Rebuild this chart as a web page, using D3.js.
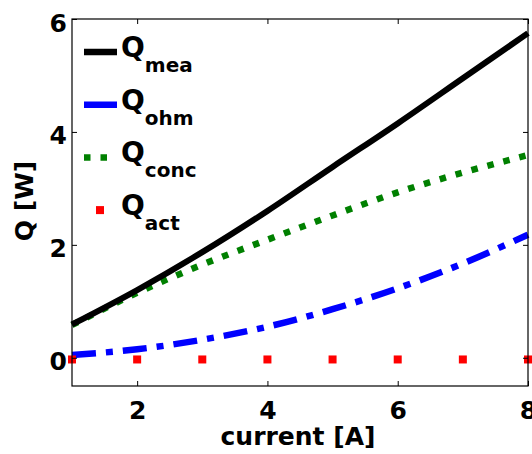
<!DOCTYPE html>
<html>
<head>
<meta charset="utf-8">
<script src="https://cdn.jsdelivr.net/npm/d3@7"></script>
<style>
  body { margin: 0; background: #fff; }
  text { font-family: "DejaVu Sans", sans-serif; font-weight: bold; }
</style>
</head>
<body>
<div id="chart"></div>
<script>
// data
const current = [1, 2, 3, 4, 5, 6, 7, 8];
const qMea  = [0.59, 1.2, 1.87, 2.6, 3.38, 4.15, 4.95, 5.75];
const qOhm  = [0.05, 0.15, 0.32, 0.55, 0.86, 1.23, 1.67, 2.18];
const qConc = [0.58, 1.15, 1.65, 2.09, 2.52, 2.93, 3.28, 3.59];
const qAct  = [-0.03, -0.03, -0.03, -0.03, -0.03, -0.03, -0.03, -0.03];
const xTicks = [2, 4, 6, 8];
const yTicks = [0, 2, 4, 6];

const width = 532, height = 454;
const margin = {left: 72, right: 4, top: 19, bottom: 68};

const svg = d3.select("#chart").append("svg")
    .attr("width", width)
    .attr("height", height);

const x = d3.scaleLinear().domain([1, 8]).range([margin.left, width - margin.right]);
const y = d3.scaleLinear().domain([-0.5, 6]).range([height - margin.bottom, margin.top]);

const plot = svg.append("g");

const line = d3.line()
    .x((d, i) => x(current[i]))
    .y(d => y(d))
    .curve(d3.curveMonotoneX);

// Q_conc dotted green
plot.append("path")
    .attr("d", line(qConc))
    .attr("fill", "none")
    .attr("stroke", "#008000")
    .attr("stroke-width", 6.5)
    .attr("stroke-dasharray", "6.5,10");

// Q_mea solid black
plot.append("path")
    .attr("d", line(qMea))
    .attr("fill", "none")
    .attr("stroke", "#000")
    .attr("stroke-width", 6);

// Q_ohm dash-dot blue
plot.append("path")
    .attr("d", line(qOhm))
    .attr("fill", "none")
    .attr("stroke", "#0000ff")
    .attr("stroke-width", 6.5)
    .attr("stroke-dasharray", "24,10,7,10");

// Q_act red markers
plot.selectAll("rect.act")
    .data(qAct)
    .join("rect")
    .attr("class", "act")
    .attr("x", (d, i) => x(current[i]) - 4)
    .attr("y", d => y(d) - 4)
    .attr("width", 8)
    .attr("height", 8)
    .attr("fill", "#ff0000");

// axes box
const x0 = x.range()[0], x1 = x.range()[1];
const y0 = y.range()[0], y1 = y.range()[1];
svg.append("rect")
    .attr("x", x0).attr("y", y1)
    .attr("width", x1 - x0).attr("height", y0 - y1)
    .attr("fill", "none").attr("stroke", "#000").attr("stroke-width", 1.2);

const fmt = d3.format("d");
const xAxis = svg.append("g")
    .attr("transform", `translate(0,${y0})`)
    .call(d3.axisBottom(x).tickValues(xTicks).tickFormat(fmt).tickSizeInner(-5).tickSizeOuter(0).tickPadding(15));
const xTop = svg.append("g")
    .attr("transform", `translate(0,${y1})`)
    .call(d3.axisTop(x).tickValues(xTicks).tickSizeInner(-5).tickSizeOuter(0).tickFormat(""));
const yAxis = svg.append("g")
    .attr("transform", `translate(${x0},0)`)
    .call(d3.axisLeft(y).tickValues(yTicks).tickFormat(fmt).tickSizeInner(-5).tickSizeOuter(0).tickPadding(5));
const yRight = svg.append("g")
    .attr("transform", `translate(${x1},0)`)
    .call(d3.axisRight(y).tickValues(yTicks).tickSizeInner(-5).tickSizeOuter(0).tickFormat(""));

[xAxis, xTop, yAxis, yRight].forEach(g => {
    g.select(".domain").remove();
    g.selectAll("line").attr("stroke", "#000");
    g.selectAll("text")
        .attr("font-size", 25)
        .attr("fill", "#000")
        .style("font-family", "'DejaVu Sans', sans-serif")
        .style("font-weight", "bold");
});
yAxis.selectAll("text").attr("dy", "0.48em");

// axis labels
svg.append("text")
    .attr("x", 298)
    .attr("y", 445)
    .attr("text-anchor", "middle")
    .attr("font-size", 25)
    .text("current [A]");

svg.append("text")
    .attr("transform", `translate(33,201) rotate(-90)`)
    .attr("text-anchor", "middle")
    .attr("font-size", 25)
    .text("Q [W]");

// legend
const legendItems = [
    {sub: "mea", color: "#000", dash: null, type: "line"},
    {sub: "ohm", color: "#0000ff", dash: null, type: "line"},
    {sub: "conc", color: "#008000", dash: "6.5,10", type: "line"},
    {sub: "act", color: "#ff0000", dash: null, type: "marker"}
];

const legend = svg.append("g");
legendItems.forEach((d, i) => {
    const ly = 52 + i * 52.7;
    if (d.type === "line") {
        legend.append("line")
            .attr("x1", 84).attr("x2", 117)
            .attr("y1", ly).attr("y2", ly)
            .attr("stroke", d.color)
            .attr("stroke-width", 6.5)
            .attr("stroke-dasharray", d.dash);
    } else {
        legend.append("rect")
            .attr("x", 96).attr("y", ly - 4)
            .attr("width", 8).attr("height", 8)
            .attr("fill", d.color);
    }
    const t = legend.append("text")
        .attr("x", 121)
        .attr("y", ly + 5)
        .attr("font-size", 28);
    t.append("tspan").text("Q");
    t.append("tspan")
        .attr("font-size", 20)
        .attr("dy", 15)
        .text(d.sub);
});
</script>
</body>
</html>
